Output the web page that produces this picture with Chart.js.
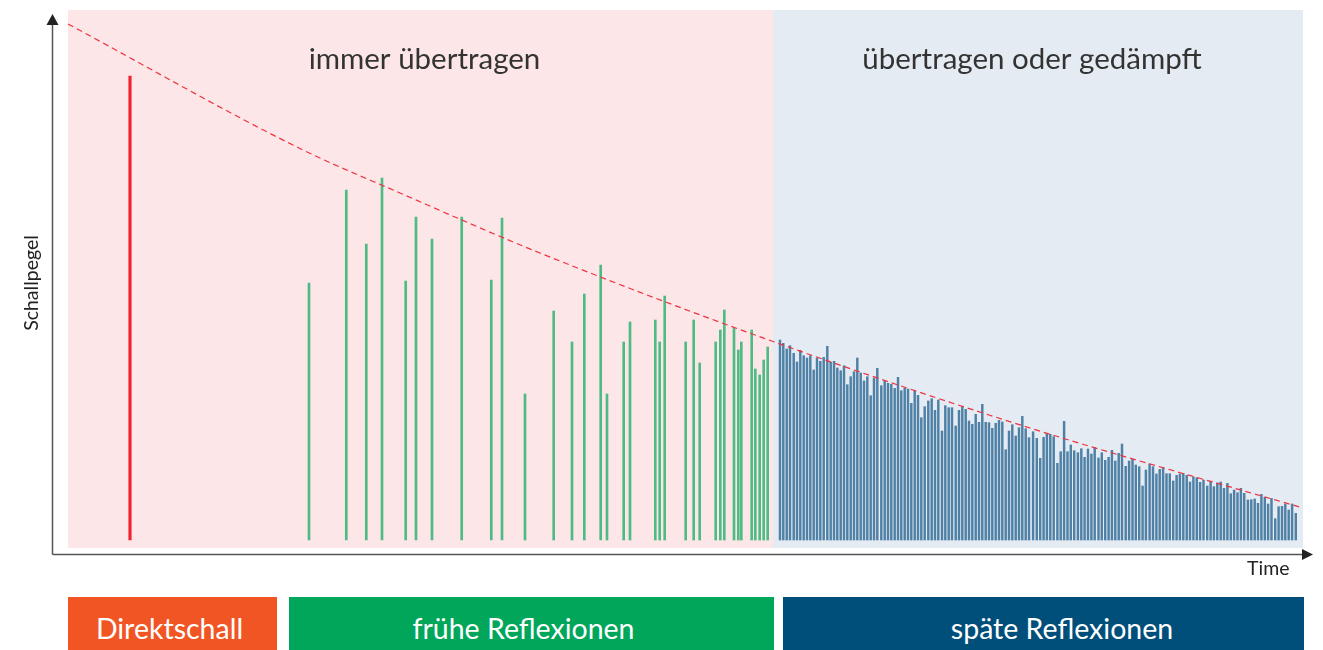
<!DOCTYPE html>
<html>
<head>
<meta charset="utf-8">
<script src="https://cdn.jsdelivr.net/npm/chart.js@4/dist/chart.umd.min.js"></script>
<style>
  body { margin: 0; background: #fff; width: 1323px; height: 650px; overflow: hidden; position: relative; font-family: Lato, "Noto Sans", sans-serif; }
  #wrap { position: absolute; left: 0; top: 0; width: 1323px; height: 590px; }
  .box { position: absolute; top: 597px; height: 60px; color: #fff; font-size: 28.5px; text-align: center; line-height: 62px; box-sizing: border-box; }
  #time { position: absolute; left: 1247px; top: 556px; font-size: 19.5px; color: #222; }
</style>
</head>
<body>
<div id="wrap"><canvas id="chart" width="1323" height="590"></canvas></div>
<div class="box" style="left:68px; width:209px; background:#f15524; padding-right:6px;">Direktschall</div>
<div class="box" style="left:289px; width:485px; background:#00a65a; padding-right:16px;">frühe Reflexionen</div>
<div class="box" style="left:783px; width:521px; background:#004f7a; padding-left:37px;">späte Reflexionen</div>
<div id="time">Time</div>
<script>
// direct sound
const directTime = [62];
const directLevel = [464];

// early reflections
const earlyTimes = [241, 278.3, 298.3, 314, 337.7, 348, 364, 393.7, 423.3, 434,
    457, 485.7, 504, 516.3, 532.7, 539, 555.7, 562, 587.3, 591.7,
    596.7, 617.7, 625.7, 631.7, 647.7, 652.3, 656.3, 666, 670.3, 673.3,
    683.7, 687.3, 691.7, 695.7, 699.7];
const earlyLevels = [257, 350, 296, 362, 259, 323, 301, 323, 260, 322,
    146, 229, 198, 246, 275, 146, 198, 218, 220, 198,
    244, 198, 220, 177, 198, 210, 230, 212, 190, 198,
    210, 171, 165, 180, 193];

// late reflections
const lateTimes = [712, 715.3, 718.7, 722, 725.7, 729, 732.3, 735.7, 739, 742.3,
    745.7, 749, 752.3, 755.7, 759.3, 762.7, 766, 769.3, 772.7, 776,
    779.3, 782.7, 786, 789.3, 792.7, 796, 799.3, 802.7, 806, 809.3,
    813.3, 816.7, 820, 823.3, 826.7, 830, 833.3, 836.7, 840, 843.3,
    846.7, 850, 853.3, 856.7, 860.3, 863.7, 867, 870.3, 874, 877.3,
    880.7, 884, 887.7, 891, 894.3, 897.7, 901, 904.3, 907.7, 911,
    914.3, 917.7, 921, 924.3, 927.7, 931, 934.3, 937.7, 941, 944.3,
    947.7, 951, 954.3, 957.7, 961,
    965.1, 968.8, 972.2, 975.6, 978.9, 982.3, 985.7, 989.4, 992.7, 996.1,
    999.5, 1002.8, 1006.2, 1009.9, 1013.3, 1016.6, 1020, 1023.4, 1026.7, 1030.5,
    1033.8, 1037.2, 1040.6, 1043.9, 1047.3, 1050.7, 1054, 1057.7, 1061.1, 1064.5,
    1067.8, 1071.2, 1074.6, 1077.9, 1081.6, 1085, 1088.4, 1091.7, 1095.1, 1098.5,
    1101.8, 1105.2, 1108.6, 1111.9, 1115.3, 1118.7, 1122, 1125.4, 1128.8, 1132.1,
    1135.5, 1139.2, 1142.6, 1145.9, 1149.3, 1152.7, 1156, 1159.4, 1162.8, 1166.1,
    1169.5, 1172.9, 1176.2, 1179.9, 1183.3, 1186.7, 1190, 1193.4, 1196.8, 1200.1,
    1203.5, 1207.2, 1210.6, 1214, 1217.3, 1220.7, 1224.1, 1227.8];
const lateLevels = [200, 196.7, 191, 194.3, 186.7, 178, 189.7, 184.3, 182, 184.3,
    170, 182, 178.7, 182.7, 193.7, 177.7, 178.7, 172, 169.3, 174.3,
    155.3, 163.3, 168.3, 182, 167, 159, 163.3, 144.3, 162, 171.7,
    154.3, 158.7, 156.7, 155.7, 151.7, 162.7, 149.3, 152, 151, 136.7,
    149, 144.7, 122.3, 133.3, 139, 141.3, 129.7, 140, 109, 134.3,
    132.3, 132.3, 114, 129.7, 133.3, 130.7, 119, 115.7, 125.7, 117.7,
    135.7, 117.7, 117.3, 111.7, 116.7, 119.7, 118, 90.3, 109, 115.3,
    104, 112.3, 123.7, 111.3, 102.3,
    108.3, 101.7, 81.7, 102.7, 106.7, 105.7, 103.3, 76.7, 88.3, 118.7,
    88.3, 95, 89.3, 87.3, 91.3, 82.7, 91, 86, 92.3, 82,
    87.3, 79.7, 82.7, 89.7, 79, 86.7, 96, 73.7, 79, 80.7,
    75, 73.3, 54, 70, 76, 73.3, 66, 70.7, 72.3, 66.3,
    66.3, 59, 64.7, 66, 66.7, 64.7, 58, 63, 62.3, 57.7,
    60, 54, 58.3, 53.3, 57, 58, 51.7, 56.7, 46.3, 50,
    47.3, 51.7, 46.7, 40, 40.3, 41, 36.7, 45.7, 42.7, 36,
    41.7, 21.3, 33.3, 33.7, 36, 30, 36, 26.7];

// decay envelope (dashed)
const envTimes = [0, 235, 332, 472, 712, 962, 1235];
const envLevels = [516, 390, 347, 287, 196, 112, 32];

// background zones
const zoneEdges = [0, 705, 1235];
const zoneLabels = ['immer übertragen', 'übertragen oder gedämpft'];
const zoneColors = ['#fce6e7', '#e4ebf2'];

function pts(xs, ys) {
    return xs.map((x, i) => ({ x: x, y: ys[i] }));
}

const decor = {
    id: 'decor',
    beforeDatasetsDraw(chart) {
        const { ctx, chartArea: a, scales: { x } } = chart;
        const nudge = [4, -6];
        ctx.save();
        for (let i = 0; i < zoneLabels.length; i++) {
            const x0 = x.getPixelForValue(zoneEdges[i]);
            const x1 = x.getPixelForValue(zoneEdges[i + 1]);
            ctx.fillStyle = zoneColors[i];
            ctx.fillRect(x0, a.top, x1 - x0, a.bottom - a.top);
            ctx.fillStyle = '#333';
            ctx.font = '29.5px Lato';
            ctx.textAlign = 'center';
            ctx.textBaseline = 'alphabetic';
            ctx.fillText(zoneLabels[i], (x0 + x1) / 2 + nudge[i], a.top + 59);
        }
        ctx.restore();
    },
    afterDraw(chart) {
        const { ctx, chartArea: a } = chart;
        const ax = a.left - 15.5;
        const ay = a.bottom + 6.5;
        ctx.save();
        ctx.strokeStyle = '#555';
        ctx.lineWidth = 1.5;
        ctx.beginPath();
        ctx.moveTo(ax, ay);
        ctx.lineTo(ax, a.top + 12);
        ctx.moveTo(ax, ay);
        ctx.lineTo(a.right + 2, ay);
        ctx.stroke();
        ctx.fillStyle = '#222';
        ctx.beginPath();
        ctx.moveTo(ax, a.top + 4);
        ctx.lineTo(ax - 6, a.top + 15);
        ctx.lineTo(ax + 6, a.top + 15);
        ctx.closePath();
        ctx.fill();
        ctx.beginPath();
        ctx.moveTo(a.right + 10, ay);
        ctx.lineTo(a.right - 1, ay - 5.5);
        ctx.lineTo(a.right - 1, ay + 5.5);
        ctx.closePath();
        ctx.fill();
        // y title
        ctx.translate(32, 283);
        ctx.rotate(-Math.PI / 2);
        ctx.fillStyle = '#222';
        ctx.font = '19.5px Lato';
        ctx.textAlign = 'center';
        ctx.textBaseline = 'middle';
        ctx.fillText('Schallpegel', 0, 0);
        ctx.restore();
    }
};

const ctx = document.getElementById('chart').getContext('2d');

new Chart(ctx, {
    data: {
        datasets: [{
            type: 'line',
            data: pts(envTimes, envLevels),
            borderColor: '#ee3340',
            borderWidth: 1.2,
            borderDash: [6, 4],
            pointRadius: 0,
            cubicInterpolationMode: 'monotone',
            order: 0
        }, {
            type: 'bar',
            data: pts(directTime, directLevel),
            backgroundColor: '#f0222c',
            barThickness: 2.5,
            grouped: false,
            order: 1
        }, {
            type: 'bar',
            data: pts(earlyTimes, earlyLevels),
            backgroundColor: '#4dbb84',
            barThickness: 2,
            grouped: false,
            order: 1
        }, {
            type: 'bar',
            data: pts(lateTimes, lateLevels),
            backgroundColor: '#4f80a6',
            barThickness: 1.8,
            grouped: false,
            order: 1
        }]
    },
    options: {
        responsive: false,
        animation: false,
        layout: { padding: { left: 68, right: 20, top: 10, bottom: 42 } },
        scales: {
            x: { type: 'linear', min: 0, max: 1235, offset: false, display: false },
            y: { type: 'linear', min: -8, max: 530, display: false }
        },
        plugins: {
            legend: { display: false },
            tooltip: { enabled: false }
        }
    },
    plugins: [decor]
});
</script>
</body>
</html>
